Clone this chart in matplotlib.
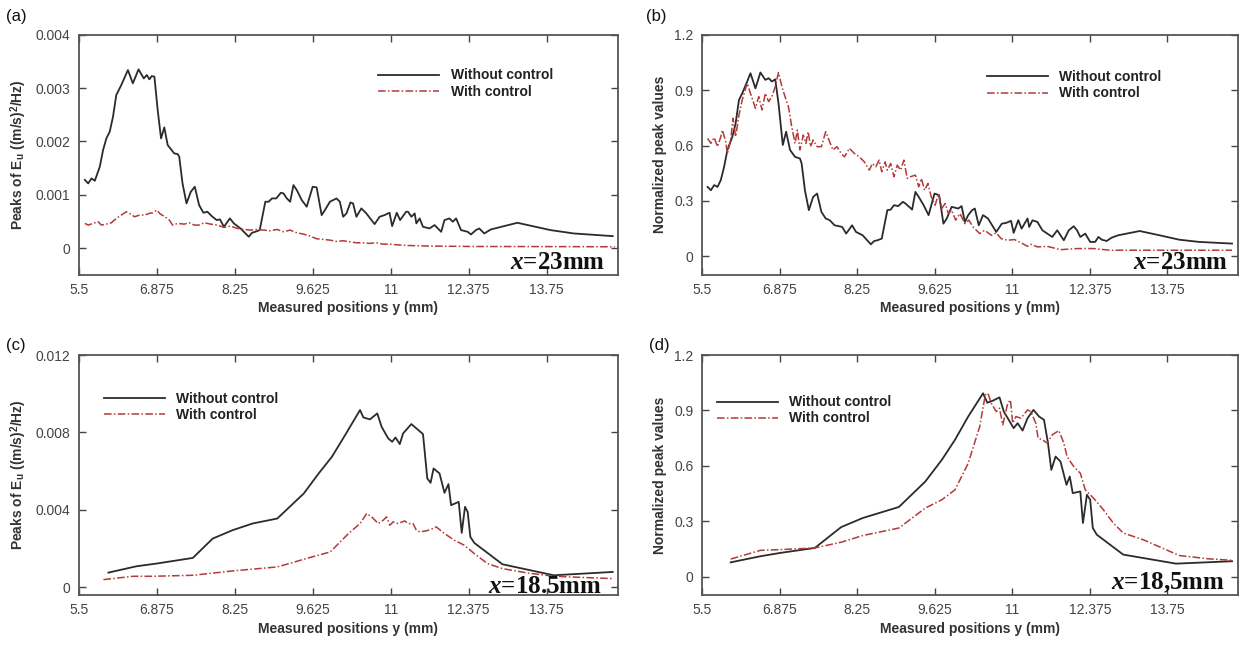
import numpy as np
import matplotlib
matplotlib.use("Agg")
import matplotlib.pyplot as plt

plt.rcParams["font.family"] = "sans-serif"
plt.rcParams["font.sans-serif"] = ["Liberation Sans", "DejaVu Sans"]
plt.rcParams["mathtext.fontset"] = "custom"
plt.rcParams["mathtext.rm"] = "Liberation Sans"
plt.rcParams["mathtext.bf"] = "Liberation Sans:bold"
plt.rcParams["mathtext.it"] = "Liberation Serif:italic:bold"

# ---- panel (a): peaks at x=23mm ----
a_y_wo = [5.608, 5.666, 5.725, 5.783, 5.871, 5.929, 5.987, 6.046, 6.104, 6.162, 6.250, 6.367, 6.454, 6.554,
          6.647, 6.700, 6.746, 6.787, 6.834, 6.892, 6.951, 7.009, 7.068, 7.184, 7.243, 7.272, 7.330, 7.400,
          7.476, 7.546, 7.622, 7.698, 7.768, 7.844, 7.932, 7.990, 8.060, 8.165, 8.235, 8.352, 8.498, 8.556,
          8.615, 8.691, 8.790, 8.848, 8.907, 8.983, 9.064, 9.111, 9.169, 9.228, 9.286, 9.345, 9.432, 9.520,
          9.625, 9.695, 9.783, 9.841, 9.929, 10.045, 10.104, 10.162, 10.221, 10.291, 10.337, 10.396, 10.483,
          10.571, 10.717, 10.805, 10.892, 10.980, 11.026, 11.108, 11.167, 11.272, 11.307, 11.365, 11.424,
          11.453, 11.511, 11.570, 11.686, 11.774, 11.891, 11.949, 12.037, 12.095, 12.154, 12.241, 12.358,
          12.416, 12.504, 12.562, 12.650, 12.767, 13.234, 13.818, 14.226, 14.915]
a_p_wo = [0.00128, 0.001213, 0.001307, 0.001263, 0.001526, 0.001839, 0.002058, 0.002183, 0.002464, 0.002871,
          0.003058, 0.00334, 0.00309, 0.003352, 0.003183, 0.003246, 0.003165, 0.003227, 0.003215, 0.002589,
          0.002058, 0.002264, 0.001933, 0.001776, 0.001764, 0.001714, 0.001213, 0.000838, 0.001057, 0.001151,
          0.000807, 0.000663, 0.000682, 0.000601, 0.000526, 0.000538, 0.0004, 0.000557, 0.000463, 0.000369,
          0.000213, 0.000288, 0.000307, 0.000338, 0.00087, 0.00087, 0.000932, 0.000932, 0.001038, 0.001026,
          0.000932, 0.00087, 0.001182, 0.001088, 0.000901, 0.000776, 0.001151, 0.001138, 0.000619, 0.000713,
          0.00087, 0.000932, 0.00087, 0.000588, 0.000651, 0.000857, 0.000838, 0.000588, 0.000745, 0.000651,
          0.00045, 0.000588, 0.000619, 0.000663, 0.000413, 0.000663, 0.000526, 0.000682, 0.000682, 0.000588,
          0.00065, 0.000463, 0.000557, 0.0004, 0.000369, 0.000432, 0.000306, 0.000525, 0.000557, 0.000494,
          0.000557, 0.000338, 0.000306, 0.000256, 0.000338, 0.000369, 0.000275, 0.00035, 0.000475, 0.000338,
          0.000275, 0.000225]
a_y_w = [5.608, 5.666, 5.754, 5.841, 5.900, 5.987, 6.075, 6.162, 6.250, 6.338, 6.396, 6.484, 6.571, 6.659,
         6.746, 6.805, 6.875, 6.939, 7.021, 7.097, 7.155, 7.243, 7.359, 7.447, 7.535, 7.622, 7.710, 7.827,
         7.943, 8.060, 8.177, 8.294, 8.411, 8.527, 8.644, 8.761, 8.878, 8.994, 9.111, 9.228, 9.345, 9.462,
         9.578, 9.695, 9.812, 9.929, 10.045, 10.162, 10.279, 10.396, 10.513, 10.629, 10.746, 10.863, 10.980,
         11.097, 11.272, 11.6, 12.0, 12.5, 13.0, 14.0, 14.95]
a_p_w = [0.000463, 0.000432, 0.000463, 0.000494, 0.000432, 0.00045, 0.000475, 0.000557, 0.000619, 0.000682,
         0.000651, 0.000588, 0.000619, 0.000619, 0.000651, 0.000663, 0.000713, 0.000638, 0.000588, 0.000526,
         0.000432, 0.000463, 0.00045, 0.000475, 0.000432, 0.000432, 0.000475, 0.00045, 0.000432, 0.000388,
         0.000413, 0.000369, 0.00035, 0.000338, 0.00035, 0.000338, 0.000325, 0.00035, 0.000307, 0.000338,
         0.000288, 0.000263, 0.000225, 0.000175, 0.000163, 0.00015, 0.000125, 0.000138, 0.000119, 0.0001,
         0.0001, 0.000088, 0.0001, 0.000075, 0.000075, 0.000063, 0.00005, 0.00004, 0.000035, 0.00003,
         0.00003, 0.000028, 0.000025]

# ---- panel (b): normalized, x=23mm ----
b_y_wo = [5.599, 5.658, 5.716, 5.775, 5.833, 5.892, 5.950, 6.038, 6.096, 6.155, 6.213, 6.301, 6.359, 6.447,
          6.535, 6.622, 6.681, 6.739, 6.798, 6.856, 6.932, 6.991, 7.061, 7.149, 7.236, 7.266, 7.324, 7.394,
          7.470, 7.540, 7.616, 7.692, 7.762, 7.850, 7.926, 7.985, 8.055, 8.160, 8.230, 8.347, 8.493, 8.552,
          8.610, 8.686, 8.785, 8.844, 8.902, 8.978, 9.060, 9.107, 9.224, 9.282, 9.341, 9.428, 9.516, 9.621,
          9.703, 9.779, 9.838, 9.925, 10.042, 10.101, 10.159, 10.218, 10.288, 10.335, 10.405, 10.481, 10.568,
          10.715, 10.814, 10.890, 10.978, 11.024, 11.106, 11.165, 11.270, 11.299, 11.357, 11.445, 11.533,
          11.620, 11.708, 11.796, 11.854, 11.913, 12.000, 12.088, 12.147, 12.205, 12.293, 12.380, 12.468,
          12.527, 12.585, 12.673, 12.760, 12.877, 13.257, 13.608, 13.959, 14.310, 14.894]
b_n_wo = [0.376, 0.358, 0.386, 0.376, 0.413, 0.485, 0.576, 0.648, 0.72, 0.847, 0.883, 0.947, 0.992, 0.91,
          0.996, 0.956, 0.965, 0.947, 0.959, 0.829, 0.603, 0.675, 0.576, 0.539, 0.53, 0.503, 0.358, 0.25,
          0.322, 0.34, 0.241, 0.205, 0.196, 0.168, 0.163, 0.159, 0.123, 0.168, 0.132, 0.114, 0.065, 0.083,
          0.087, 0.096, 0.25, 0.253, 0.277, 0.272, 0.295, 0.286, 0.253, 0.349, 0.322, 0.277, 0.223, 0.34,
          0.331, 0.177, 0.205, 0.268, 0.259, 0.272, 0.186, 0.223, 0.25, 0.259, 0.168, 0.223, 0.205, 0.132,
          0.177, 0.181, 0.192, 0.127, 0.196, 0.15, 0.205, 0.159, 0.195, 0.186, 0.141, 0.123, 0.105, 0.141,
          0.114, 0.087, 0.141, 0.163, 0.141, 0.105, 0.123, 0.078, 0.078, 0.105, 0.09, 0.083, 0.101, 0.114,
          0.137, 0.114, 0.09, 0.078, 0.069]
b_y_w = [5.599, 5.658, 5.716, 5.775, 5.833, 5.862, 5.921, 5.950, 6.009, 6.050, 6.096, 6.155, 6.213, 6.301,
         6.359, 6.447, 6.506, 6.564, 6.622, 6.681, 6.739, 6.798, 6.856, 6.915, 6.991, 7.032, 7.090, 7.149,
         7.190, 7.236, 7.295, 7.342, 7.382, 7.423, 7.470, 7.540, 7.616, 7.692, 7.762, 7.821, 7.891, 7.967,
         8.025, 8.113, 8.201, 8.289, 8.376, 8.464, 8.522, 8.581, 8.639, 8.686, 8.745, 8.785, 8.844, 8.902,
         8.961, 9.019, 9.078, 9.136, 9.195, 9.282, 9.341, 9.388, 9.446, 9.505, 9.563, 9.633, 9.692, 9.750,
         9.809, 9.867, 9.925, 9.996, 10.072, 10.159, 10.229, 10.305, 10.422, 10.510, 10.627, 10.715, 10.802,
         10.919, 11.036, 11.182, 11.270, 11.328, 11.445, 11.621, 11.854, 12.147, 12.439, 12.731, 13.141,
         13.608, 14.193, 14.894]
b_n_w = [0.639, 0.612, 0.644, 0.594, 0.648, 0.684, 0.621, 0.557, 0.63, 0.748, 0.648, 0.766, 0.847, 0.938,
         0.883, 0.802, 0.865, 0.793, 0.883, 0.838, 0.865, 0.92, 0.996, 0.92, 0.847, 0.811, 0.702, 0.612,
         0.684, 0.576, 0.657, 0.612, 0.675, 0.594, 0.63, 0.594, 0.594, 0.675, 0.621, 0.576, 0.594, 0.557,
         0.539, 0.585, 0.557, 0.539, 0.512, 0.467, 0.503, 0.485, 0.521, 0.458, 0.512, 0.467, 0.503, 0.431,
         0.494, 0.467, 0.521, 0.422, 0.431, 0.44, 0.376, 0.422, 0.358, 0.395, 0.322, 0.277, 0.34, 0.259,
         0.286, 0.232, 0.25, 0.196, 0.232, 0.177, 0.196, 0.159, 0.123, 0.141, 0.114, 0.127, 0.096, 0.087,
         0.091, 0.069, 0.054, 0.065, 0.051, 0.054, 0.036, 0.042, 0.042, 0.033, 0.033, 0.033, 0.033, 0.033]

# ---- panel (c): peaks at x=18.5mm ----
c_y_wo = [6.023, 6.519, 6.869, 7.512, 7.862, 8.212, 8.563, 9.001, 9.468, 9.730, 9.964, 10.197, 10.460,
          10.519, 10.635, 10.764, 10.840, 10.957, 11.027, 11.085, 11.161, 11.219, 11.365, 11.570, 11.646,
          11.704, 11.757, 11.862, 11.949, 12.019, 12.066, 12.200, 12.253, 12.311, 12.358, 12.405, 12.475,
          12.971, 13.409, 13.876, 14.915]
c_p_wo = [0.000758, 0.001086, 0.001224, 0.001517, 0.002517, 0.002949, 0.003294, 0.003553, 0.004846, 0.005881,
          0.006744, 0.007865, 0.009159, 0.008779, 0.008676, 0.008986, 0.008296, 0.007692, 0.00752, 0.007744,
          0.007399, 0.007951, 0.008434, 0.007917, 0.005622, 0.005398, 0.00614, 0.005881, 0.004881, 0.005329,
          0.004242, 0.004415, 0.002811, 0.004156, 0.003897, 0.002604, 0.002293, 0.001189, 0.000913, 0.00062,
          0.000792]
c_y_w = [5.935, 6.461, 6.811, 7.512, 8.212, 9.001, 9.614, 9.935, 10.256, 10.460, 10.577, 10.665, 10.781,
         10.869, 10.927, 10.986, 11.044, 11.132, 11.248, 11.307, 11.394, 11.453, 11.511, 11.628, 11.745,
         11.803, 11.949, 12.124, 12.299, 12.475, 12.708, 12.971, 13.409, 13.876, 14.915]
c_p_w = [0.000396, 0.000568, 0.000568, 0.00062, 0.000844, 0.001051, 0.001569, 0.001827, 0.002776, 0.003293,
         0.003811, 0.003639, 0.003293, 0.003466, 0.003639, 0.003207, 0.00338, 0.003293, 0.003431, 0.003293,
         0.003293, 0.002948, 0.002862, 0.002914, 0.003035, 0.003121, 0.002776, 0.002431, 0.002172, 0.001741,
         0.001224, 0.000965, 0.000741, 0.000568, 0.000447]

# ---- panel (d): normalized, x=18.5mm ----
d_y_wo = [6.009, 6.535, 6.886, 7.499, 7.967, 8.347, 8.990, 9.458, 9.750, 9.984, 10.218, 10.481, 10.557,
          10.656, 10.773, 10.849, 10.919, 11.024, 11.094, 11.182, 11.270, 11.375, 11.474, 11.562, 11.632,
          11.691, 11.767, 11.854, 11.960, 12.018, 12.071, 12.205, 12.252, 12.322, 12.380, 12.427, 12.497,
          12.965, 13.901, 14.894]
d_n_wo = [0.077, 0.11, 0.128, 0.155, 0.268, 0.317, 0.377, 0.515, 0.632, 0.741, 0.867, 0.993, 0.942, 0.953,
          0.971, 0.894, 0.858, 0.804, 0.831, 0.791, 0.858, 0.903, 0.867, 0.849, 0.723, 0.578, 0.65, 0.623,
          0.497, 0.542, 0.452, 0.461, 0.29, 0.443, 0.416, 0.263, 0.227, 0.119, 0.07, 0.083]
d_y_w = [6.009, 6.535, 6.886, 7.499, 7.967, 8.347, 8.990, 9.458, 9.750, 9.984, 10.218, 10.422, 10.521,
         10.568, 10.627, 10.714, 10.773, 10.831, 10.919, 10.966, 11.007, 11.065, 11.153, 11.270, 11.328,
         11.416, 11.457, 11.533, 11.620, 11.708, 11.825, 11.913, 11.971, 12.088, 12.205, 12.293, 12.380,
         12.439, 12.614, 12.790, 12.965, 13.316, 13.959, 14.485, 14.894]
d_n_w = [0.095, 0.142, 0.146, 0.155, 0.186, 0.222, 0.263, 0.371, 0.416, 0.47, 0.614, 0.813, 0.984, 0.993,
         0.939, 0.894, 0.912, 0.822, 0.939, 0.957, 0.831, 0.867, 0.858, 0.903, 0.894, 0.831, 0.75, 0.741,
         0.723, 0.768, 0.791, 0.723, 0.65, 0.596, 0.56, 0.47, 0.443, 0.425, 0.362, 0.29, 0.236, 0.2, 0.114,
         0.096, 0.088]

xticks = [5.5, 6.875, 8.25, 9.625, 11, 12.375, 13.75]
xtick_labels = ["5.5", "6.875", "8.25", "9.625", "11", "12.375", "13.75"]
peak_ticks_a = [0, 0.001, 0.002, 0.003, 0.004]
peak_labels_a = ["0", "0.001", "0.002", "0.003", "0.004"]
peak_ticks_c = [0, 0.004, 0.008, 0.012]
peak_labels_c = ["0", "0.004", "0.008", "0.012"]
norm_ticks = [0, 0.3, 0.6, 0.9, 1.2]
norm_labels = ["0", "0.3", "0.6", "0.9", "1.2"]

BLACK = "#2b2b2b"
RED = "#b23a3a"
GREY = "#444444"

fig = plt.figure(figsize=(12.5, 6.45), dpi=100)

ylab_peak = r"Peaks of E$_{\mathbf{u}}$ ((m/s)$^{\mathbf{2}}$/Hz)"
ylab_norm = "Normalized peak values"

panels = [
    # rect, x1, y1, x2, y2, ylim, yticks, ylabels, ylabel, legend anchor, note, note pos
    ([0.063, 0.574, 0.431, 0.372], a_y_wo, a_p_wo, a_y_w, a_p_w, (-0.0005, 0.004),
     peak_ticks_a, peak_labels_a, ylab_peak, (0.556, 0.86), "=23mm", (0.978, 0.005), "(a)", (0.005, 0.975)),
    ([0.5616, 0.574, 0.4288, 0.372], b_y_wo, b_n_wo, b_y_w, b_n_w, (-0.1, 1.2),
     norm_ticks, norm_labels, ylab_norm, (0.532, 0.852), "=23mm", (0.981, 0.005), "(b)", (0.517, 0.975)),
    ([0.063, 0.0775, 0.431, 0.372], c_y_wo, c_p_wo, c_y_w, c_p_w, (-0.0004, 0.012),
     peak_ticks_c, peak_labels_c, ylab_peak, (0.046, 0.845), "=18.5mm", (0.972, -0.012), "(c)", (0.005, 0.465)),
    ([0.5616, 0.0775, 0.4288, 0.372], d_y_wo, d_n_wo, d_y_w, d_n_w, (-0.1, 1.2),
     norm_ticks, norm_labels, ylab_norm, (0.028, 0.832), "=18,5mm", (0.976, 0.0), "(d)", (0.519, 0.465)),
]

for rect, x1, y1, x2, y2, ylim, yt, ytl, ylab, anchor, note, npos, tag, tpos in panels:
    ax = fig.add_axes(rect)
    ax.plot(x1, y1, color=BLACK, lw=1.3, label="Without control")
    ax.plot(x2, y2, color=RED, lw=1.1, ls=(0, (5, 1.5, 1, 1.5)), label="With control")
    ax.set_xlim(5.5, 15.0)
    ax.set_ylim(*ylim)
    ax.set_xticks(xticks)
    ax.set_xticklabels(xtick_labels)
    ax.set_yticks(yt)
    ax.set_yticklabels(ytl)
    ax.tick_params(direction="in", top=True, right=True, length=5, width=1,
                   labelsize=10, labelcolor=GREY, color=GREY, pad=6)
    for s in ax.spines.values():
        s.set_color("#555555")
        s.set_linewidth(1.3)
    ax.set_xlabel("Measured positions y (mm)", fontsize=10, fontweight="bold", color="#333333", labelpad=3)
    ax.set_ylabel(ylab, fontsize=10, fontweight="bold", color="#333333", labelpad=5)
    leg = ax.legend(loc="upper left", bbox_to_anchor=anchor, frameon=False, borderpad=0,
                    borderaxespad=0, handlelength=4.4, handletextpad=0.8, labelspacing=0.15,
                    prop={"weight": "bold", "size": 10})
    for t in leg.get_texts():
        t.set_color("#222222")
    ax.text(npos[0], npos[1], r"$\mathit{x}$" + note, transform=ax.transAxes, ha="right", va="bottom",
            fontsize=18, fontweight="bold", family="Liberation Serif", color="#111111")
    fig.text(tpos[0], tpos[1], tag, fontsize=12, va="center", ha="left", color="#111111")

fig.savefig("out.png", dpi=100)
